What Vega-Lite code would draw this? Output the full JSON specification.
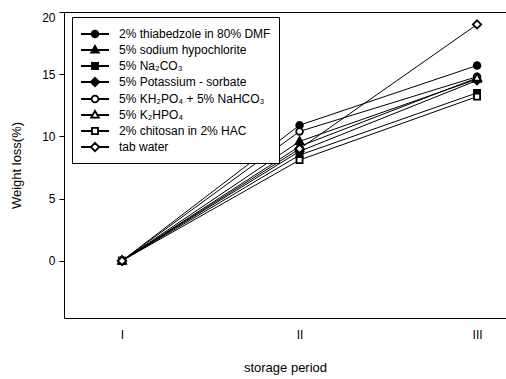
{
  "$schema": "https://vega.github.io/schema/vega-lite/v6.json",
  "width": 442,
  "height": 306,
  "autosize": "none",
  "padding": {"left": 64, "top": 12, "right": 0, "bottom": 61},
  "background": "white",
  "config": {
    "font": "Liberation Sans",
    "view": {"stroke": "black", "strokeWidth": 1},
    "axis": {"grid": false}
  },
  "data": {
    "values": [
      {"series": "2% thiabedzole in 80% DMF", "period": 1, "loss": 0},
      {"series": "2% thiabedzole in 80% DMF", "period": 2, "loss": 10.9},
      {"series": "2% thiabedzole in 80% DMF", "period": 3, "loss": 15.7},
      {"series": "5% sodium hypochlorite", "period": 1, "loss": 0},
      {"series": "5% sodium hypochlorite", "period": 2, "loss": 9.6},
      {"series": "5% sodium hypochlorite", "period": 3, "loss": 14.6},
      {"series": "5% Na₂CO₃", "period": 1, "loss": 0},
      {"series": "5% Na₂CO₃", "period": 2, "loss": 8.5},
      {"series": "5% Na₂CO₃", "period": 3, "loss": 13.5},
      {"series": "5% Potassium - sorbate", "period": 1, "loss": 0},
      {"series": "5% Potassium - sorbate", "period": 2, "loss": 8.8},
      {"series": "5% Potassium - sorbate", "period": 3, "loss": 14.5},
      {"series": "5% KH₂PO₄ + 5% NaHCO₃", "period": 1, "loss": 0},
      {"series": "5% KH₂PO₄ + 5% NaHCO₃", "period": 2, "loss": 10.4},
      {"series": "5% KH₂PO₄ + 5% NaHCO₃", "period": 3, "loss": 14.8},
      {"series": "5% K₂HPO₄", "period": 1, "loss": 0},
      {"series": "5% K₂HPO₄", "period": 2, "loss": 9.2},
      {"series": "5% K₂HPO₄", "period": 3, "loss": 14.7},
      {"series": "2% chitosan in 2% HAC", "period": 1, "loss": 0},
      {"series": "2% chitosan in 2% HAC", "period": 2, "loss": 8.1},
      {"series": "2% chitosan in 2% HAC", "period": 3, "loss": 13.2},
      {"series": "tab water", "period": 1, "loss": 0},
      {"series": "tab water", "period": 2, "loss": 9.0},
      {"series": "tab water", "period": 3, "loss": 19.0}
    ]
  },
  "encoding": {
    "x": {
      "field": "period",
      "type": "quantitative",
      "scale": {"domain": [0.673, 3.163], "nice": false, "zero": false},
      "axis": {
        "title": "storage period",
        "values": [1, 2, 3],
        "labelExpr": "datum.value == 1 ? 'I' : datum.value == 2 ? 'II' : 'III'",
        "ticks": false,
        "domain": false,
        "labelFlush": false,
        "labelPadding": 11,
        "labelFontSize": 12,
        "labelColor": "black",
        "titleFontSize": 13,
        "titleFontWeight": "normal",
        "titleColor": "black",
        "titlePadding": 21
      }
    },
    "y": {
      "field": "loss",
      "type": "quantitative",
      "scale": {"domain": [-4.6, 20], "nice": false, "zero": false},
      "axis": {
        "title": "Weight loss(%)",
        "values": [0, 5, 10, 15, 20],
        "tickSize": 5,
        "tickColor": "black",
        "domain": false,
        "labelFlush": true,
        "labelPadding": 4,
        "labelFontSize": 12,
        "labelColor": "black",
        "titleFontSize": 13,
        "titleFontWeight": "normal",
        "titleColor": "black",
        "titlePadding": 18
      }
    }
  },
  "layer": [
    {
      "mark": {"type": "line", "stroke": "black", "strokeWidth": 1},
      "encoding": {"detail": {"field": "series", "type": "nominal"}}
    },
    {
      "mark": {"type": "point", "stroke": "black", "strokeWidth": 1.8, "size": 256, "opacity": 1},
      "encoding": {
        "shape": {
          "field": "series",
          "type": "nominal",
          "scale": {
            "domain": ["2% thiabedzole in 80% DMF", "5% sodium hypochlorite", "5% Na₂CO₃", "5% Potassium - sorbate", "5% KH₂PO₄ + 5% NaHCO₃", "5% K₂HPO₄", "2% chitosan in 2% HAC", "tab water"],
            "range": [
              "M-0.42,0A0.42,0.42 0 1,1 0.42,0A0.42,0.42 0 1,1 -0.42,0Z",
              "M0,-0.52L0.48,0.34L-0.48,0.34Z",
              "M-0.38,-0.38H0.38V0.38H-0.38Z",
              "M0,-0.52L0.52,0L0,0.52L-0.52,0Z",
              "M-0.42,0A0.42,0.42 0 1,1 0.42,0A0.42,0.42 0 1,1 -0.42,0Z",
              "M0,-0.52L0.48,0.34L-0.48,0.34Z",
              "M-0.38,-0.38H0.38V0.38H-0.38Z",
              "M0,-0.52L0.52,0L0,0.52L-0.52,0Z"
            ]
          },
          "legend": null
        },
        "fill": {
          "field": "series",
          "type": "nominal",
          "scale": {
            "domain": ["2% thiabedzole in 80% DMF", "5% sodium hypochlorite", "5% Na₂CO₃", "5% Potassium - sorbate", "5% KH₂PO₄ + 5% NaHCO₃", "5% K₂HPO₄", "2% chitosan in 2% HAC", "tab water"],
            "range": ["black", "black", "black", "black", "white", "white", "white", "white"]
          },
          "legend": null
        }
      }
    },
    {
      "mark": {"type": "point", "stroke": "black", "strokeWidth": 1.8, "size": 256, "opacity": 0},
      "encoding": {
        "shape": {
          "field": "series",
          "type": "nominal",
          "scale": {
            "domain": ["2% thiabedzole in 80% DMF", "5% sodium hypochlorite", "5% Na₂CO₃", "5% Potassium - sorbate", "5% KH₂PO₄ + 5% NaHCO₃", "5% K₂HPO₄", "2% chitosan in 2% HAC", "tab water"],
            "range": [
              "M-1.75,0H-0.42M0.42,0H1.75M-0.42,0A0.42,0.42 0 1,1 0.42,0A0.42,0.42 0 1,1 -0.42,0Z",
              "M-1.75,0H-0.28M0.28,0H1.75M0,-0.52L0.48,0.34L-0.48,0.34Z",
              "M-1.75,0H-0.38M0.38,0H1.75M-0.38,-0.38H0.38V0.38H-0.38Z",
              "M-1.75,0H-0.52M0.52,0H1.75M0,-0.52L0.52,0L0,0.52L-0.52,0Z",
              "M-1.75,0H-0.42M0.42,0H1.75M-0.42,0A0.42,0.42 0 1,1 0.42,0A0.42,0.42 0 1,1 -0.42,0Z",
              "M-1.75,0H-0.28M0.28,0H1.75M0,-0.52L0.48,0.34L-0.48,0.34Z",
              "M-1.75,0H-0.38M0.38,0H1.75M-0.38,-0.38H0.38V0.38H-0.38Z",
              "M-1.75,0H-0.52M0.52,0H1.75M0,-0.52L0.52,0L0,0.52L-0.52,0Z"
            ]
          },
          "legend": {
            "title": null,
            "orient": "none",
            "legendX": 8,
            "legendY": 5,
            "strokeColor": "black",
            "fillColor": "white",
            "padding": 8,
            "symbolOffset": 6,
            "labelOffset": 15,
            "rowPadding": 0,
            "symbolStrokeColor": "black",
            "symbolStrokeWidth": 1.8,
            "symbolSize": 256,
            "symbolOpacity": 1,
            "labelFontSize": 12,
            "labelColor": "black",
            "labelLimit": 400,
            "encode": {
              "symbols": {
                "update": {
                  "stroke": {"value": "black"},
                  "strokeWidth": {"value": 1.8},
                  "opacity": {"value": 1}
                }
              }
            }
          }
        },
        "fill": {
          "field": "series",
          "type": "nominal",
          "scale": {
            "domain": ["2% thiabedzole in 80% DMF", "5% sodium hypochlorite", "5% Na₂CO₃", "5% Potassium - sorbate", "5% KH₂PO₄ + 5% NaHCO₃", "5% K₂HPO₄", "2% chitosan in 2% HAC", "tab water"],
            "range": ["black", "black", "black", "black", "white", "white", "white", "white"]
          },
          "legend": {
            "title": null,
            "orient": "none",
            "legendX": 8,
            "legendY": 5,
            "strokeColor": "black",
            "fillColor": "white",
            "padding": 8,
            "symbolOffset": 6,
            "labelOffset": 15,
            "rowPadding": 0,
            "symbolStrokeColor": "black",
            "symbolStrokeWidth": 1.8,
            "symbolSize": 256,
            "symbolOpacity": 1,
            "labelFontSize": 12,
            "labelColor": "black",
            "labelLimit": 400,
            "encode": {
              "symbols": {
                "update": {
                  "stroke": {"value": "black"},
                  "strokeWidth": {"value": 1.8},
                  "opacity": {"value": 1}
                }
              }
            }
          }
        }
      }
    }
  ],
  "resolve": {
    "scale": {"shape": "independent", "fill": "independent"},
    "legend": {"shape": "independent", "fill": "independent"}
  }
}
